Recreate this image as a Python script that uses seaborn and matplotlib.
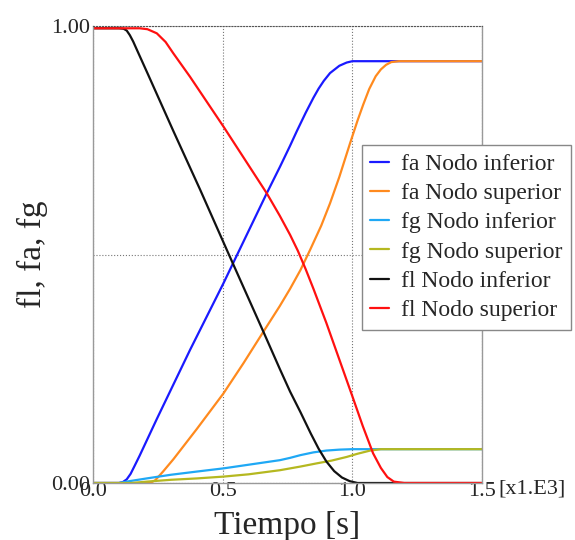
import numpy as np
import pandas as pd
import matplotlib
matplotlib.use("Agg")
import matplotlib.pyplot as plt
import seaborn as sns

# Tiempo en unidades de 1E3 s, fracciones
t_fa_inf = [0.0, 0.10, 0.115, 0.13, 0.145, 0.16, 0.18, 0.246, 0.374, 0.503, 0.541, 0.67, 0.721, 0.76, 0.786,
            0.82, 0.85, 0.87, 0.89, 0.914, 0.95, 0.978, 1.0, 1.5]
fa_inf = [0.0, 0.0, 0.002, 0.008, 0.02, 0.037, 0.06, 0.14, 0.291, 0.437, 0.482, 0.634, 0.692, 0.738, 0.77,
          0.81, 0.843, 0.863, 0.88, 0.897, 0.913, 0.920, 0.923, 0.923]

t_fa_sup = [0.0, 0.22, 0.24, 0.27, 0.31, 0.40, 0.503, 0.58, 0.657, 0.72, 0.76, 0.80, 0.837, 0.88, 0.914, 0.95,
            0.991, 1.02, 1.042, 1.065, 1.09, 1.11, 1.13, 1.15, 1.18, 1.5]
fa_sup = [0.0, 0.0, 0.006, 0.025, 0.052, 0.118, 0.196, 0.262, 0.331, 0.387, 0.425, 0.466, 0.51, 0.563, 0.612, 0.67,
          0.743, 0.793, 0.828, 0.862, 0.89, 0.905, 0.915, 0.921, 0.923, 0.923]

t_fg_inf = [0.0, 0.10, 0.14, 0.207, 0.30, 0.40, 0.503, 0.60, 0.721, 0.76, 0.80, 0.85, 0.90, 0.95, 1.0, 1.5]
fg_inf = [0.0, 0.0, 0.004, 0.010, 0.018, 0.025, 0.032, 0.040, 0.050, 0.055, 0.061, 0.067, 0.071, 0.073, 0.074, 0.074]

t_fg_sup = [0.0, 0.15, 0.207, 0.30, 0.40, 0.503, 0.60, 0.721, 0.80, 0.863, 0.92, 0.978, 1.02, 1.069, 1.11, 1.158, 1.5]
fg_sup = [0.0, 0.0, 0.003, 0.007, 0.010, 0.014, 0.019, 0.028, 0.036, 0.043, 0.049, 0.057, 0.064, 0.071, 0.074, 0.074, 0.074]

t_fl_inf = [0.0, 0.10, 0.118, 0.13, 0.142, 0.155, 0.17, 0.213, 0.31, 0.413, 0.52, 0.657, 0.72, 0.76, 0.80, 0.84,
            0.87, 0.90, 0.93, 0.96, 0.99, 1.02, 1.5]
fl_inf = [0.995, 0.995, 0.994, 0.99, 0.98, 0.966, 0.947, 0.893, 0.77, 0.642, 0.505, 0.331, 0.25, 0.20, 0.155, 0.108,
          0.075, 0.047, 0.026, 0.012, 0.004, 0.0, 0.0]

t_fl_sup = [0.0, 0.18, 0.21, 0.246, 0.28, 0.31, 0.374, 0.503, 0.67, 0.72, 0.76, 0.79, 0.82, 0.85, 0.90, 0.95, 1.0,
            1.04, 1.08, 1.11, 1.135, 1.16, 1.2, 1.5]
fl_sup = [0.995, 0.995, 0.993, 0.984, 0.965, 0.94, 0.889, 0.78, 0.634, 0.585, 0.543, 0.508, 0.468, 0.425, 0.35, 0.27,
          0.19, 0.125, 0.065, 0.033, 0.013, 0.003, 0.0, 0.0]

series = ["fa Nodo inferior", "fa Nodo superior", "fg Nodo inferior",
          "fg Nodo superior", "fl Nodo inferior", "fl Nodo superior"]
colores = ["#1a1aff", "#ff8a1e", "#1fa8f5", "#b5b820", "#111111", "#ff1010"]

datos = [(t_fa_inf, fa_inf), (t_fa_sup, fa_sup), (t_fg_inf, fg_inf),
         (t_fg_sup, fg_sup), (t_fl_inf, fl_inf), (t_fl_sup, fl_sup)]
df = pd.concat([pd.DataFrame({"t": t, "f": f, "serie": s}) for s, (t, f) in zip(series, datos)],
               ignore_index=True)

sns.set_style("white")
plt.rcParams["font.family"] = ["Liberation Serif", "DejaVu Serif"]

fig = plt.figure(figsize=(5.75, 5.4), dpi=100)
ax = fig.add_axes([93/575, 57/540, 389/575, 457/540])

sns.lineplot(data=df, x="t", y="f", hue="serie", hue_order=series,
             palette=dict(zip(series, colores)), linewidth=1.6,
             errorbar=None, ax=ax)

ax.set_xlim(0, 1.5)
ax.set_ylim(0, 1.0)
ax.set_xticks([0, 0.5, 1.0, 1.5])
ax.set_xticklabels(["0.0", "0.5", "1.0", "1.5"])
ax.set_yticks([0, 0.5, 1.0])
ax.set_yticklabels(["0.00", "", "1.00"])
ax.tick_params(axis="both", labelsize=16, length=0)
ax.tick_params(axis="x", pad=-1)
ax.tick_params(axis="y", pad=2)
ax.grid(True, linestyle=":", color="#777777", linewidth=0.8)

for side in ["left", "right", "bottom"]:
    ax.spines[side].set_color("#999999")
    ax.spines[side].set_linewidth(1.0)
ax.spines["top"].set_color("#555555")
ax.spines["top"].set_linestyle(":")

ax.set_xlabel("Tiempo [s]", fontsize=24, labelpad=7)
ax.set_ylabel("fl, fa, fg", fontsize=24, labelpad=2)
fig.text(498/575, 1 - 489/540, "[x1.E3]", fontsize=16, ha="left", va="center")

leg = ax.legend(loc="upper left", bbox_to_anchor=(362/575, 1 - 145/540),
                bbox_transform=fig.transFigure, fontsize=17, frameon=True,
                fancybox=False, framealpha=1, edgecolor="#888888",
                handlelength=0.8, handletextpad=0.5, labelspacing=0.33,
                borderpad=0.35, borderaxespad=0)
leg.get_frame().set_linewidth(1.0)

plt.savefig("out.png", dpi=100)
